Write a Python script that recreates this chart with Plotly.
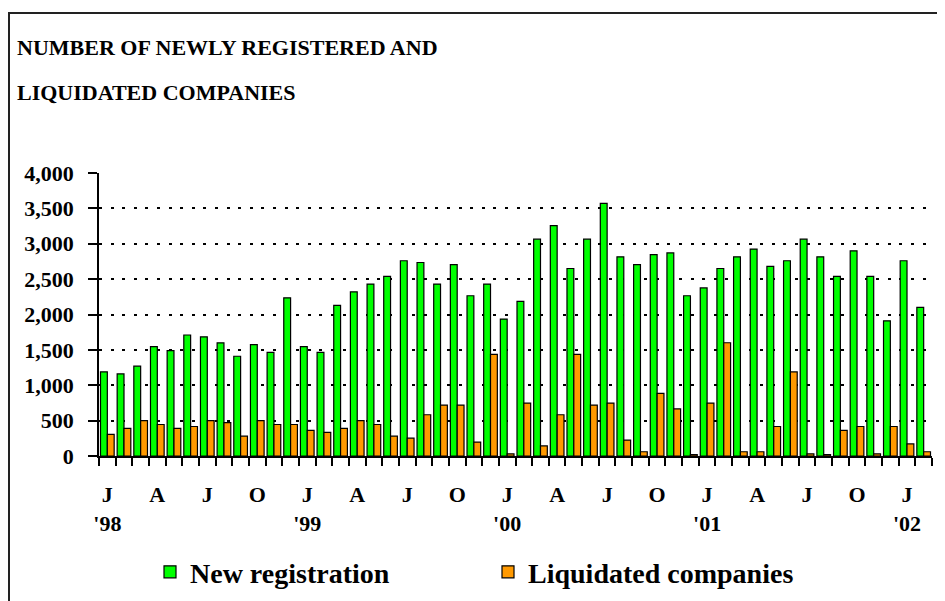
import plotly.graph_objects as go

# ---- data (monthly, Jan 1998 - Feb 2002) ----
months = [f"{y}-{m:02d}" for y in range(1998, 2003) for m in range(1, 13)][:50]
new_registration = [1190, 1160, 1270, 1545, 1490, 1710, 1685, 1600, 1410, 1575, 1465, 2235,
                    1545, 1465, 2130, 2320, 2430, 2540, 2760, 2735, 2430, 2705, 2265, 2430,
                    1935, 2185, 3065, 3255, 2650, 3065, 3570, 2815, 2705, 2845, 2870, 2265,
                    2375, 2650, 2815, 2925, 2680, 2760, 3065, 2815, 2540, 2900, 2540, 1910,
                    2760, 2100]
liquidated = [307, 390, 500, 445, 390, 417, 500, 472, 280, 500, 445, 445,
              362, 335, 390, 500, 445, 280, 252, 583, 720, 720, 197, 1436,
              30, 748, 142, 583, 1436, 720, 748, 225, 60, 885, 665, 20,
              748, 1601, 60, 60, 417, 1188, 30, 20, 362, 417, 30, 417,
              170, 60]
month_letters = ["J", "F", "M", "A", "M", "J", "J", "A", "S", "O", "N", "D"]
y_ticks = [0, 500, 1000, 1500, 2000, 2500, 3000, 3500, 4000]
title_lines = ["NUMBER OF NEWLY REGISTERED AND", "LIQUIDATED COMPANIES"]

x = list(range(len(months)))
tick_vals, tick_text = [], []
for i, mth in enumerate(months):
    yr, mo = mth.split("-")
    mo = int(mo)
    if mo in (1, 4, 7, 10):
        tick_vals.append(i)
        lbl = month_letters[mo - 1]
        if mo == 1:
            lbl += "<br>'" + yr[2:]
        tick_text.append(lbl)

FONT = "Liberation Serif"

fig = go.Figure()
fig.add_trace(go.Bar(x=x, y=new_registration, name="New registration",
                     marker=dict(color="#00FF00", line=dict(color="black", width=1.2))))
fig.add_trace(go.Bar(x=x, y=liquidated, name="Liquidated companies",
                     marker=dict(color="#FF9900", line=dict(color="black", width=1.2))))

# page offset (default body margin) compensation
OFF = 8
# plot area geometry (pixels, in page coordinates of the reference)
L, R, T, B = 99 - OFF, 13 + OFF, 173 - OFF, 138 + OFF
W = 945 - L - R
H = 601 - T - B

def px_x(p):
    return (p - OFF - L) / W

def px_y(p):
    return (601 - B - (p - OFF)) / H

fig.update_layout(
    width=945, height=601,
    margin=dict(l=L, r=R, t=T, b=B),
    paper_bgcolor="white", plot_bgcolor="white",
    barmode="group", bargap=0.18, bargroupgap=0,
    font=dict(family=FONT, color="black", weight="bold"),
    showlegend=True,
    legend=dict(orientation="h", x=px_x(150), y=px_y(582), xanchor="left", yanchor="middle",
                font=dict(size=28, family=FONT, weight="bold"),
                entrywidth=293, entrywidthmode="pixels", bgcolor="rgba(0,0,0,0)"),
    xaxis=dict(range=[-0.5, len(months) - 0.5], tickmode="array", tickvals=tick_vals,
               ticktext=tick_text, ticks="", showline=True, linecolor="black", linewidth=1.5,
               showgrid=False, zeroline=False, ticklabelstandoff=18, automargin=False,
               tickfont=dict(size=22, family=FONT, weight="bold"),
               minor=dict(tickmode="array", tickvals=[i - 0.5 for i in range(len(months) + 1)],
                          ticks="outside", ticklen=8, tickwidth=1.5, tickcolor="black",
                          showgrid=False)),
    yaxis=dict(range=[0, 4000], tickmode="array", tickvals=y_ticks, tickformat=",d",
               ticks="outside", ticklen=9, tickwidth=1.5, tickcolor="black",
               showline=True, linecolor="black", linewidth=1.5, zeroline=False,
               showgrid=True, gridcolor="black", gridwidth=2, griddash="3px,8.6px",
               ticklabelstandoff=10, automargin=False,
               tickfont=dict(size=22, family=FONT, weight="bold")),
    shapes=[dict(type="rect", xref="paper", yref="paper",
                 x0=px_x(9), x1=px_x(980), y0=px_y(660), y1=px_y(9),
                 line=dict(color="#222", width=2), fillcolor="rgba(0,0,0,0)", layer="below")],
    annotations=[
        dict(text=title_lines[0], xref="paper", yref="paper", x=px_x(15), y=px_y(44),
             xanchor="left", yanchor="middle", showarrow=False,
             font=dict(size=22, family=FONT, weight="bold")),
        dict(text=title_lines[1], xref="paper", yref="paper", x=px_x(15), y=px_y(90),
             xanchor="left", yanchor="middle", showarrow=False,
             font=dict(size=22, family=FONT, weight="bold")),
    ],
)

fig.write_html("out.html")
